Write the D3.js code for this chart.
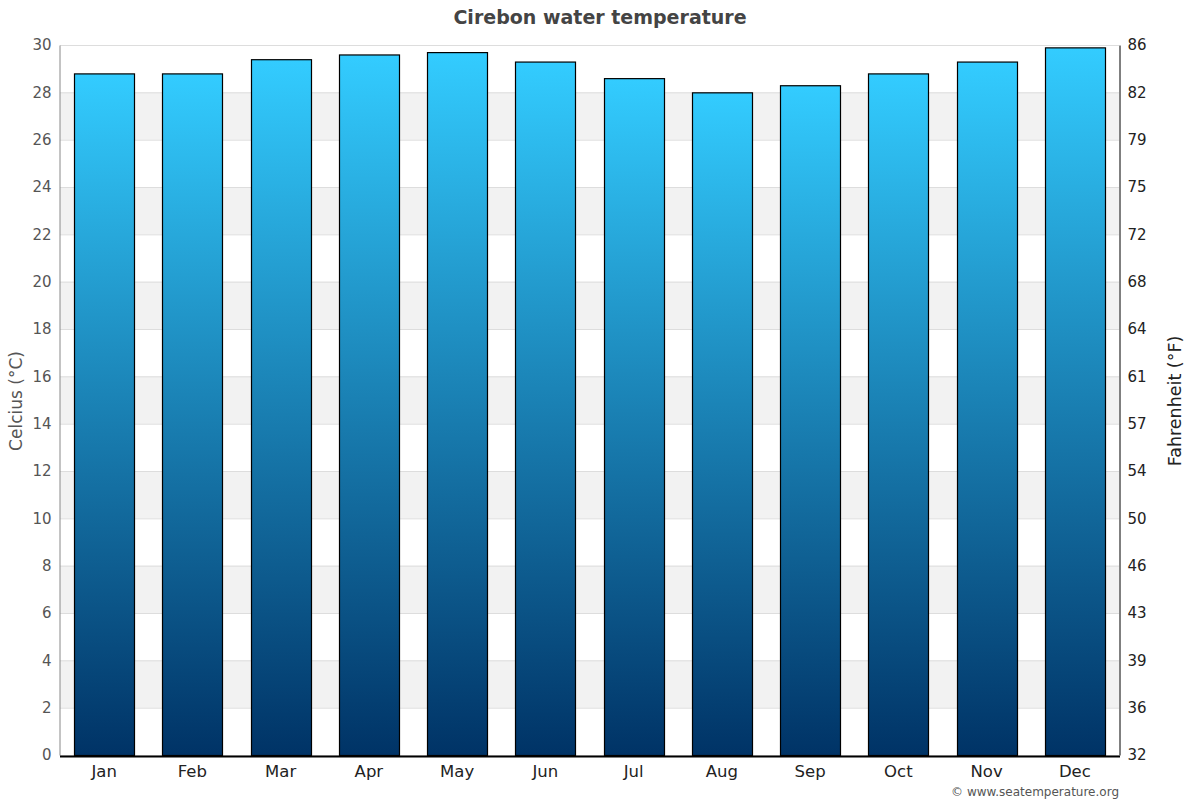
<!DOCTYPE html>
<html><head><meta charset="utf-8">
<script src="https://cdn.jsdelivr.net/npm/d3@7"></script>
<style>body{margin:0;background:#fff;font-family:"DejaVu Sans",sans-serif;}</style>
</head><body>
<svg id="c" width="1200" height="800"></svg>
<script>
const months = ["Jan","Feb","Mar","Apr","May","Jun","Jul","Aug","Sep","Oct","Nov","Dec"];
const waterTempC = [28.8,28.8,29.4,29.6,29.7,29.3,28.6,28.0,28.3,28.8,29.3,29.9];
const celsiusTicks = [0,2,4,6,8,10,12,14,16,18,20,22,24,26,28,30];
const title = "Cirebon water temperature";

const svg = d3.select("#c");
const m = {l:60, r:1119, t:45, b:755};
const x = d3.scaleBand().domain(months).range([m.l, m.r]).paddingInner(0.32).paddingOuter(0.16);
const y = d3.scaleLinear().domain([0,30]).range([m.b, m.t]);

const defs = svg.append("defs");
const g = defs.append("linearGradient").attr("id","grad").attr("x1",0).attr("y1",0).attr("x2",0).attr("y2",1);
g.append("stop").attr("offset","0%").attr("stop-color","#33ccff");
g.append("stop").attr("offset","100%").attr("stop-color","#003366");

// bands
for (let i = 2; i < 30; i += 4) {
  svg.append("rect").attr("x", m.l).attr("width", m.r - m.l)
    .attr("y", y(i+2)).attr("height", y(i) - y(i+2)).attr("fill", "#f2f2f2");
}
// gridlines
svg.append("g").selectAll("line").data(celsiusTicks).join("line")
  .attr("x1", m.l).attr("x2", m.r).attr("y1", d=>y(d)+0.5).attr("y2", d=>y(d)+0.5)
  .attr("stroke", "#dddddd");

// left axis
const la = svg.append("g").attr("transform",`translate(${m.l-0.5},0)`)
  .call(d3.axisLeft(y).tickValues(celsiusTicks).tickSize(0).tickPadding(8));
la.select(".domain").attr("stroke","#888");
la.selectAll("text").attr("font-size",15).attr("fill","#555").attr("font-family","DejaVu Sans");

// right axis
const fTick = d => Math.round(d*9/5+32);
const ra = svg.append("g").attr("transform",`translate(${m.r+0.5},0)`)
  .call(d3.axisRight(y).tickValues(celsiusTicks).tickSize(0).tickPadding(8).tickFormat(fTick));
ra.select(".domain").attr("stroke","#000");
ra.selectAll("text").attr("font-size",15).attr("fill","#222").attr("font-family","DejaVu Sans");

// bars
svg.append("g").selectAll("rect").data(waterTempC).join("rect")
  .attr("x", (d,i)=>Math.round(x(months[i]))+0.5)
  .attr("width", Math.round(x.bandwidth()))
  .attr("y", d=>y(d)+0.5)
  .attr("height", d=>y(0)-y(d))
  .attr("fill","url(#grad)").attr("stroke","#000").attr("stroke-width",1.2);

// baseline
svg.append("line").attr("x1", m.l).attr("x2", m.r+1).attr("y1", m.b+1.5).attr("y2", m.b+1.5)
  .attr("stroke","#000").attr("stroke-width",2);

// x axis labels
const xa = svg.append("g").attr("transform",`translate(0,${m.b})`)
  .call(d3.axisBottom(x).tickSize(0).tickPadding(10));
xa.select(".domain").remove();
xa.selectAll("text").attr("font-size",16.5).attr("fill","#222").attr("font-family","DejaVu Sans");

// titles
svg.append("text").attr("x",600).attr("y",24).attr("text-anchor","middle")
  .attr("font-size",19).attr("font-weight","bold").attr("fill","#444").text(title);
svg.append("text").attr("transform","translate(22,401) rotate(-90)").attr("text-anchor","middle")
  .attr("font-size",17).attr("fill","#555").text("Celcius (°C)");
svg.append("text").attr("transform","translate(1181,401) rotate(-90)").attr("text-anchor","middle")
  .attr("font-size",17.5).attr("fill","#222").text("Fahrenheit (°F)");
svg.append("text").attr("x",1119).attr("y",796).attr("text-anchor","end")
  .attr("font-size",12).attr("fill","#555").text("© www.seatemperature.org");
</script>
</body></html>
